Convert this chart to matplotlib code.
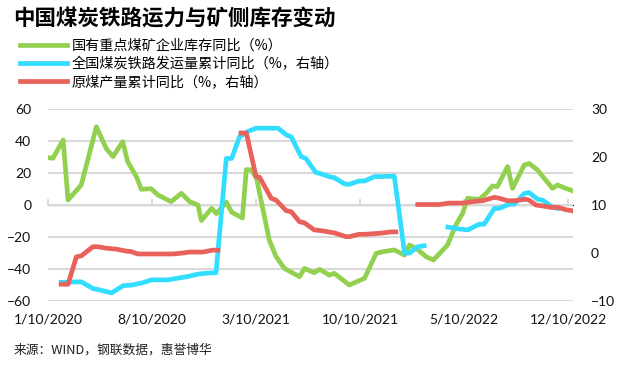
import numpy as np
import pandas as pd
import matplotlib
matplotlib.use("Agg")
import matplotlib.pyplot as plt

plt.rcParams['font.family'] = ['Lato', 'Noto Sans CJK SC', 'DejaVu Sans']

# === DATEN ===
# 国有重点煤矿企业库存同比 (%), linke Achse
kohle_lager_datum = [
    '2020-01-10', '2020-01-20', '2020-02-10', '2020-02-20', '2020-03-18', '2020-04-18',
    '2020-05-08', '2020-05-22', '2020-06-11', '2020-06-21', '2020-07-09', '2020-07-19',
    '2020-08-08', '2020-08-22', '2020-09-18', '2020-10-09', '2020-10-26', '2020-11-12',
    '2020-11-19', '2020-12-10', '2020-12-20', '2021-01-09', '2021-01-20', '2021-02-11',
    '2021-02-19', '2021-03-01', '2021-03-12', '2021-04-07', '2021-04-21', '2021-05-08',
    '2021-06-08', '2021-06-18', '2021-07-08', '2021-07-19', '2021-08-08', '2021-08-18',
    '2021-09-18', '2021-10-19', '2021-11-12', '2021-11-25', '2021-12-19', '2022-01-09',
    '2022-01-19', '2022-02-02', '2022-02-22', '2022-03-09', '2022-04-07', '2022-04-24',
    '2022-05-08', '2022-05-18', '2022-06-11', '2022-06-25', '2022-07-08', '2022-07-18',
    '2022-08-08', '2022-08-18', '2022-09-11', '2022-09-21', '2022-10-08', '2022-10-25',
    '2022-11-08', '2022-11-18', '2022-12-05', '2022-12-19',
]
kohle_lager = [
    29.6, 29.2, 40.6, 3.1, 12.5, 48.9,
    35.4, 30.2, 39.6, 27.1, 17.7, 9.8,
    10.2, 6.3, 2.1, 7.3, 2.1, 0.0,
    -9.7, -2.1, -5.4, 1.8, -4.5, -8.1,
    22.1, 22.0, 16.6, -21.9, -32.3, -39.6,
    -44.8, -39.6, -42.3, -40.2, -43.8, -42.7,
    -50.0, -45.8, -30.2, -29.2, -28.1, -31.3,
    -25.0, -27.1, -32.3, -34.4, -25.0, -12.5,
    -5.2, 4.2, 3.5, 7.3, 11.9, 11.5,
    24.0, 10.4, 25.0, 26.0, 21.9, 15.6,
    10.4, 12.5, 10.4, 8.9,
]

# 全国煤炭铁路发运量累计同比 (%), rechte Achse (NaN = Luecke)
bahn_datum = [
    '2020-02-06', '2020-03-18', '2020-04-11', '2020-04-25', '2020-05-19', '2020-06-12',
    '2020-06-28', '2020-07-22', '2020-08-09', '2020-09-11', '2020-09-28', '2020-10-22',
    '2020-11-12', '2020-11-29', '2020-12-19', '2021-01-09', '2021-01-20', '2021-02-05',
    '2021-02-22', '2021-03-11', '2021-04-25', '2021-05-12', '2021-05-22', '2021-06-11',
    '2021-06-21', '2021-07-11', '2021-07-19', '2021-08-08', '2021-08-18', '2021-09-08',
    '2021-09-18', '2021-10-08', '2021-10-19', '2021-11-08', '2021-12-19', '2022-01-09',
    '2022-01-19', '2022-02-05', '2022-02-18', '2022-03-15', '2022-04-08', '2022-04-25',
    '2022-05-18', '2022-06-11', '2022-06-21', '2022-07-12', '2022-07-22', '2022-08-12',
    '2022-08-22', '2022-09-11', '2022-09-21', '2022-10-08', '2022-10-19', '2022-11-08',
    '2022-11-19',
]
bahn = [
    -6.1, -6.0, -7.4, -7.7, -8.3, -6.8,
    -6.7, -6.2, -5.6, -5.6, -5.3, -4.9,
    -4.4, -4.2, -4.1, 19.7, 19.7, 24.2,
    25.3, 26.0, 26.0, 24.6, 24.2, 20.1,
    19.7, 16.8, 16.6, 15.9, 15.7, 14.4,
    14.3, 15.0, 15.0, 15.9, 16.0, 0.0,
    0.0, 1.3, 1.5, np.nan, 5.4, 5.1,
    4.8, 6.0, 6.0, 9.3, 9.3, 10.2,
    10.2, 12.4, 12.6, 11.2, 11.0, 9.5,
    9.3,
]

# 原煤产量累计同比 (%), rechte Achse (NaN = Luecke)
produktion_datum = [
    '2020-02-06', '2020-02-20', '2020-03-08', '2020-03-18', '2020-04-11', '2020-04-21',
    '2020-05-08', '2020-05-29', '2020-06-18', '2020-06-28', '2020-07-12', '2020-08-05',
    '2020-09-22', '2020-10-12', '2020-10-26', '2020-11-22', '2020-12-12', '2020-12-23',
    '2021-01-20', '2021-02-08', '2021-02-19', '2021-03-11', '2021-03-18', '2021-04-11',
    '2021-04-21', '2021-05-12', '2021-05-22', '2021-06-08', '2021-06-18', '2021-07-08',
    '2021-07-19', '2021-08-18', '2021-09-11', '2021-09-18', '2021-10-08', '2021-10-19',
    '2021-11-18', '2021-12-12', '2021-12-22', '2022-01-15', '2022-02-05', '2022-03-21',
    '2022-04-11', '2022-05-08', '2022-05-28', '2022-06-18', '2022-06-28', '2022-07-12',
    '2022-07-22', '2022-08-08', '2022-08-22', '2022-09-15', '2022-09-21', '2022-10-05',
    '2022-10-19', '2022-11-05', '2022-11-19', '2022-12-06', '2022-12-19',
]
produktion = [
    -6.5, -6.5, -0.8, -0.6, 1.3, 1.3,
    1.0, 0.8, 0.4, 0.3, -0.2, -0.2,
    -0.2, 0.0, 0.2, 0.2, 0.6, 0.6,
    np.nan, 25.0, 25.0, 15.9, 15.8, 11.4,
    11.0, 8.8, 8.6, 6.5, 6.3, 4.8,
    4.7, 4.2, 3.4, 3.4, 3.9, 3.9,
    4.1, 4.4, 4.4, np.nan, 10.1, 10.1,
    10.4, 10.4, 10.7, 10.9, 11.2, 11.6,
    11.4, 10.9, 10.9, 11.2, 11.0, 10.0,
    9.8, 9.5, 9.5, 9.0, 8.8,
]

x_ticks = ['2020-01-10', '2020-08-10', '2021-03-10', '2021-10-10', '2022-05-10', '2022-12-10']

GRUEN = '#92D050'
BLAU = '#33DDFF'
ROT = '#E8615A'
GRID = '#D9D9D9'

# === PLOT ===
fig = plt.figure(figsize=(6.22, 3.65), dpi=100)
ax = fig.add_axes([0.0772, 0.1753, 0.8441, 0.5261])
ax2 = ax.twinx()

lw = 3.4
l1, = ax.plot(pd.to_datetime(kohle_lager_datum), kohle_lager, color=GRUEN, lw=lw,
              solid_joinstyle='round', zorder=2, label='国有重点煤矿企业库存同比（%）')
l2, = ax2.plot(pd.to_datetime(bahn_datum), bahn, color=BLAU, lw=lw,
               solid_joinstyle='round', zorder=3, label='全国煤炭铁路发运量累计同比（%，右轴）')
l3, = ax2.plot(pd.to_datetime(produktion_datum), produktion, color=ROT, lw=lw,
               solid_joinstyle='round', zorder=4, label='原煤产量累计同比（%，右轴）')

ax.set_ylim(-60, 60)
ax.set_yticks(range(-60, 61, 20))
ax2.set_ylim(-10, 30)
ax2.set_yticks(range(-10, 31, 10))

ax.set_xlim(pd.Timestamp('2020-01-10'), pd.Timestamp('2022-12-20'))
tick_pos = pd.to_datetime(x_ticks)
ax.set_xticks(tick_pos)
ax.set_xticklabels([f'{d.month}/{d.day}/{d.year}' for d in tick_pos])

for a in (ax, ax2):
    for s in a.spines.values():
        s.set_visible(False)
    a.tick_params(axis='both', length=0, labelsize=10, colors='#111111')
ax.tick_params(axis='y', pad=12)
ax2.tick_params(axis='y', pad=13)
ax.tick_params(axis='x', pad=9)
ax.yaxis.grid(True, color=GRID, lw=1.5)
ax.set_axisbelow(True)

# Achsenlinie bei 0 mit kleinen Ticks
sek = ax.secondary_xaxis(0.5)
sek.set_xticks(tick_pos)
sek.set_xticklabels([])
sek.spines['bottom'].set_color(GRID)
sek.spines['bottom'].set_linewidth(1.5)
sek.tick_params(axis='x', direction='out', length=4, width=1.5, color=GRID)

# Titel, Legende, Quelle
fig.text(0.021, 0.948, '中国煤炭铁路运力与矿侧库存变动', fontsize=15.5, fontweight='bold',
         family=['Noto Sans CJK SC', 'DejaVu Sans'], va='center', ha='left')
fig.legend(handles=[l1, l2, l3], loc='upper left', bbox_to_anchor=(0.032, 0.893),
           frameon=False, handlelength=3.3, handletextpad=0.35,
           labelspacing=0.28, borderaxespad=0, borderpad=0,
           prop={'family': ['Noto Sans CJK SC', 'DejaVu Sans'], 'size': 10.2})
fig.text(0.021, 0.041, '来源：WIND，钢联数据，惠誉博华', fontsize=9.2,
         family=['Noto Sans CJK SC', 'DejaVu Sans'], va='center', ha='left', color='#222222')

plt.savefig('out.png', dpi=100)
